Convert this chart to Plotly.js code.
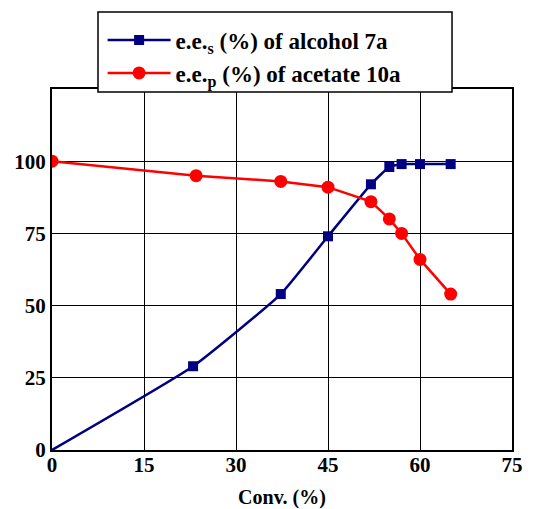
<!DOCTYPE html>
<html>
<head>
<meta charset="utf-8">
<script src="https://cdn.plot.ly/plotly-3.0.1.min.js"></script>
<style>html,body{margin:0;padding:0;background:#fff;}</style>
</head>
<body>
<div id="chart" style="width:533px;height:509px;"></div>
<script>
var convAlcohol = [0, 23, 37.3, 45, 52, 55, 57, 60, 65];
var eeAlcohol   = [0, 29, 54, 74, 92, 98, 99, 99, 99];
var convAcetate = [0, 23.5, 37.3, 45, 52, 55, 57, 60, 65];
var eeAcetate   = [100, 95, 93, 91, 86, 80, 75, 66, 54];
var xTicks = [0, 15, 30, 45, 60, 75];
var yTicks = [0, 25, 50, 75, 100];
var nameAlcohol = 'e.e.<sub>s</sub> (%) of alcohol 7a';
var nameAcetate = 'e.e.<sub>p</sub> (%) of acetate 10a';
var xTitle = 'Conv. (%)';

var font = 'Liberation Serif';
var traces = [
  {x: convAlcohol, y: eeAlcohol, name: nameAlcohol, type: 'scatter', mode: 'lines+markers',
   line: {color: '#000080', width: 2.5, shape: 'spline', smoothing: 0.4},
   marker: {symbol: 'square', size: 10, color: '#000080', line: {width: 0}},
   selectedpoints: [1, 2, 3, 4, 5, 6, 7, 8],
   selected: {marker: {opacity: 1}}, unselected: {marker: {opacity: 0}}, cliponaxis: true},
  {x: convAcetate, y: eeAcetate, name: nameAcetate, type: 'scatter', mode: 'lines+markers',
   line: {color: '#ff0000', width: 2.5},
   marker: {symbol: 'circle', size: 13, color: '#ff0000', line: {width: 0}}, cliponaxis: true}
];
var layout = {
  width: 533, height: 509,
  margin: {l: 52, r: 21, t: 89, b: 59},
  paper_bgcolor: '#fff', plot_bgcolor: '#fff',
  font: {family: font, color: '#000', size: 19},
  showlegend: true,
  legend: {x: 0.11, y: 1.195, xanchor: 'left', yanchor: 'top', bgcolor: 'rgba(0,0,0,0)',
           borderwidth: 0, font: {family: font, size: 23, weight: 'bold', color: '#000'},
           tracegroupgap: 0, itemwidth: 63},
  shapes: [{type: 'rect', xref: 'paper', yref: 'paper', x0: 0.1, x1: 0.8696, y0: 0.9917, y1: 1.213,
            fillcolor: '#fff', line: {color: '#000', width: 1.5}, layer: 'above'}],
  xaxis: {range: [0, 75], tickvals: xTicks, ticktext: xTicks.map(String),
          showgrid: true, gridcolor: '#000', gridwidth: 1, zeroline: false,
          showline: true, mirror: true, linecolor: '#000', linewidth: 2, ticks: '', ticklen: 0,
          ticklabelstandoff: -5,
          tickfont: {family: font, size: 21, weight: 'bold', color: '#000'},
          title: {text: xTitle, font: {family: font, size: 20, weight: 'bold', color: '#000'}, standoff: 20}},
  yaxis: {range: [0, 125], tickvals: yTicks, ticktext: yTicks.map(String),
          showgrid: true, gridcolor: '#000', gridwidth: 1, zeroline: false,
          showline: true, mirror: true, linecolor: '#000', linewidth: 2, ticks: '',
          tickfont: {family: font, size: 21, weight: 'bold', color: '#000'}}
};
Plotly.newPlot('chart', traces, layout, {displayModeBar: false, staticPlot: true});
</script>
</body>
</html>
